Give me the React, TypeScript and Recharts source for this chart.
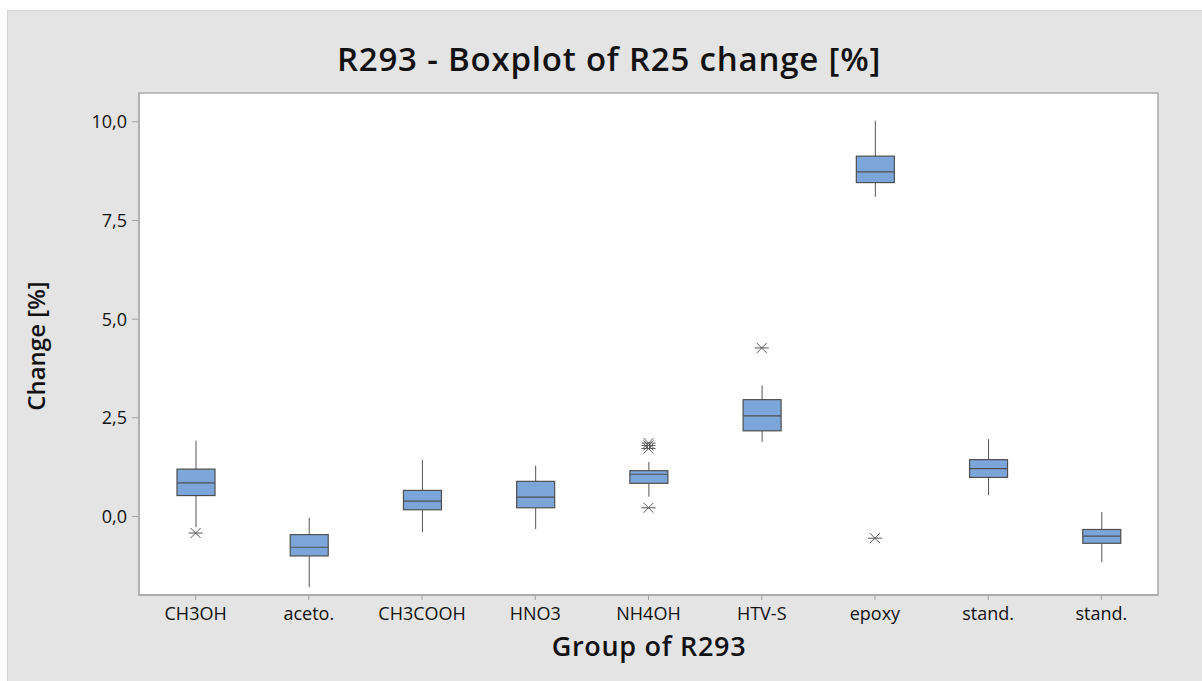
import React from 'react';
import { ComposedChart, Bar, Scatter, XAxis, YAxis, CartesianGrid, ReferenceArea } from 'recharts';

const groups = ['CH3OH', 'aceto.', 'CH3COOH', 'HNO3', 'NH4OH', 'HTV-S', 'epoxy', 'stand.', 'stand.'];
const whiskerLow = [-0.27, -1.79, -0.40, -0.32, 0.50, 1.89, 8.10, 0.54, -1.16];
const q1 = [0.53, -1.00, 0.17, 0.22, 0.84, 2.17, 8.46, 0.99, -0.68];
const median = [0.85, -0.78, 0.39, 0.49, 1.07, 2.55, 8.73, 1.21, -0.50];
const q3 = [1.20, -0.46, 0.66, 0.89, 1.16, 2.96, 9.13, 1.44, -0.33];
const whiskerHigh = [1.92, -0.03, 1.43, 1.29, 1.38, 3.32, 10.03, 1.96, 0.11];
const outliers: number[][] = [[-0.42], [], [], [], [1.72, 1.80, 1.86, 0.22], [4.27], [-0.55], [], []];
const yTicks = [0, 2.5, 5, 7.5, 10];
const yDomain = [-1.99, 10.73];

const outlierKeys = ['o1', 'o2', 'o3', 'o4'];

const data = groups.map((g, i) => {
  const row: any = {
    key: `g${i}`,
    label: g,
    low: whiskerLow[i],
    q1: q1[i],
    med: median[i],
    q3: q3[i],
    high: whiskerHigh[i],
  };
  outlierKeys.forEach((k, j) => {
    row[k] = outliers[i][j] !== undefined ? outliers[i][j] : null;
  });
  return row;
});

const labelOf = (k: string) => {
  const d = data.find((r) => r.key === k);
  return d ? d.label : k;
};

const FONT = '"Open Sans", "Noto Sans", sans-serif';
const BOX_FILL = '#7ca6da';
const STROKE = '#4f4f4f';

const BoxShape = (props: any) => {
  const { x, y, width, height } = props;
  const p = props.payload || props;
  if (p == null || !isFinite(y) || !isFinite(height)) return null;
  const top = Math.min(y, y + height);
  const bottom = Math.max(y, y + height);
  const hi = p.high;
  const lo = p.low;
  const px = (v: number) => top + ((hi - v) / (hi - lo)) * (bottom - top);
  const cx = x + width / 2;
  const yq3 = px(p.q3);
  const yq1 = px(p.q1);
  const ym = px(p.med);
  return (
    <g>
      <line x1={cx} x2={cx} y1={top} y2={yq3} stroke="#555" strokeWidth={1} />
      <line x1={cx} x2={cx} y1={yq1} y2={bottom} stroke="#555" strokeWidth={1} />
      <rect x={x} y={yq3} width={width} height={yq1 - yq3} fill={BOX_FILL} stroke={STROKE} strokeWidth={1.2} />
      <line x1={x} x2={x + width} y1={ym} y2={ym} stroke={STROKE} strokeWidth={1.2} />
    </g>
  );
};

const makeStar = (k: string) => (props: any) => {
  const { cx, cy } = props;
  const p = props.payload || {};
  if (p[k] == null || !isFinite(cx) || !isFinite(cy)) return <g />;
  const r = 5;
  return (
    <g stroke="#555" strokeWidth={1}>
      <line x1={cx - r} y1={cy - r} x2={cx + r} y2={cy + r} />
      <line x1={cx - r} y1={cy + r} x2={cx + r} y2={cy - r} />
      <line x1={cx - 7} y1={cy} x2={cx + 7} y2={cy} />
    </g>
  );
};

const Y_AXIS_W = 60;
const X_AXIS_H = 40;

export default function App() {
  return (
    <div style={{ position: 'absolute', left: 0, top: 0, width: 1202, height: 681, background: '#fff', overflow: 'hidden', fontFamily: FONT }}>
      <div
        style={{
          position: 'absolute',
          left: 7,
          top: 10,
          right: 0,
          bottom: 0,
          background: '#e4e4e4',
          borderLeft: '1px solid #d2d2d2',
          borderTop: '1px solid #d2d2d2',
        }}
      />
      <div
        style={{
          position: 'absolute',
          left: 0,
          width: 1218,
          top: 36,
          textAlign: 'center',
          fontSize: 33,
          fontWeight: 600,
          letterSpacing: 0.8,
          color: '#111',
          whiteSpace: 'nowrap',
        }}
      >
        R293 - Boxplot of R25 change [%]
      </div>
      <div
        style={{
          position: 'absolute',
          left: 0,
          width: 1298,
          top: 627,
          textAlign: 'center',
          fontSize: 27,
          fontWeight: 600,
          letterSpacing: 0.7,
          color: '#111',
          whiteSpace: 'nowrap',
        }}
      >
        Group of R293
      </div>
      <div
        style={{
          position: 'absolute',
          left: 35,
          top: 346,
          width: 0,
          height: 0,
        }}
      >
        <div
          style={{
            position: 'absolute',
            left: 0,
            top: 0,
            transform: 'translate(-50%, -50%) rotate(-90deg)',
            fontSize: 24,
            fontWeight: 600,
            color: '#111',
            whiteSpace: 'nowrap',
          }}
        >
          Change [%]
        </div>
      </div>
      <div style={{ position: 'absolute', left: 0, top: 0 }}>
        <ComposedChart
          width={1202}
          height={681}
          data={data}
          margin={{ top: 93, right: 44, bottom: 86 - X_AXIS_H, left: 139 - Y_AXIS_W }}
        >
          <CartesianGrid horizontal={false} vertical={false} fill="#ffffff" />
          <XAxis
            dataKey="key"
            type="category"
            interval={0}
            height={X_AXIS_H}
            tickFormatter={labelOf}
            axisLine={{ stroke: '#a8a8a8', strokeWidth: 1.5 }}
            tickLine={{ stroke: '#a0a0a0' }}
            tickSize={5}
            tickMargin={7}
            tick={{ fontSize: 18, fill: '#111', fontFamily: FONT, fontWeight: 500 }}
          />
          <YAxis
            type="number"
            domain={yDomain}
            allowDataOverflow
            ticks={yTicks}
            width={Y_AXIS_W}
            tickFormatter={(v: number) => v.toFixed(1).replace('.', ',')}
            axisLine={{ stroke: '#a8a8a8' }}
            tickLine={{ stroke: '#a0a0a0' }}
            tickSize={7}
            tickMargin={5}
            tick={{ fontSize: 18, fill: '#111', fontFamily: FONT, fontWeight: 500 }}
          />
          <ReferenceArea
            y1={yDomain[0]}
            y2={yDomain[1]}
            fill="none"
            fillOpacity={0}
            stroke="#ababab"
            strokeWidth={1.5}
            ifOverflow="visible"
          />
          <Bar
            dataKey={(d: any) => [d.low, d.high]}
            barSize={38}
            shape={BoxShape}
            isAnimationActive={false}
          />
          {outlierKeys.map((k) => (
            <Scatter key={k} dataKey={k} shape={makeStar(k)} isAnimationActive={false} />
          ))}
        </ComposedChart>
      </div>
    </div>
  );
}
